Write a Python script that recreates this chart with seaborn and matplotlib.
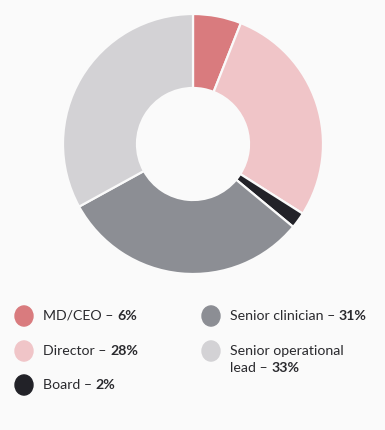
import matplotlib
matplotlib.use("Agg")
import matplotlib.pyplot as plt
import seaborn as sns

# data
labels = ["MD/CEO", "Director", "Board", "Senior clinician", "Senior operational\nlead"]
shares = [6, 28, 2, 31, 33]
colors = ["#d97b7e", "#f0c5c8", "#222228", "#8c8e94", "#d3d2d5"]

BG = "#fafafa"
W, H = 385, 430

sns.set_theme(style="white")
plt.rcParams["font.family"] = ["Lato", "DejaVu Sans"]

fig = plt.figure(figsize=(W / 100, H / 100), dpi=100, facecolor=BG)

# donut: centre (193,144), outer r 130, inner r 56 (pixels)
cx, cy, r = 193, 144, 130
ax = fig.add_axes([(cx - r) / W, (H - cy - r) / H, 2 * r / W, 2 * r / H])
ax.pie(shares, colors=colors, startangle=90, counterclock=False,
       wedgeprops=dict(width=(130 - 56) / 130, edgecolor=BG, linewidth=1.6))
ax.set_xlim(-1, 1)
ax.set_ylim(-1, 1)
ax.set_aspect("equal")
ax.axis("off")

# legend (pixel positions)
items = [(0, 24, 316), (1, 24, 351), (2, 24, 385), (3, 211, 316), (4, 211, 351)]
renderer = fig.canvas.get_renderer()
for idx, x, y in items:
    fig.patches.append(plt.Circle((x / W, 1 - y / H), 9 / W, transform=fig.transFigure,
                                  color=colors[idx], figure=fig))
    lines = labels[idx].split("\n")
    for k, line in enumerate(lines):
        ty = y + k * 17
        last = k == len(lines) - 1
        t = fig.text((x + 19) / W, 1 - ty / H, line + (" \u2013 " if last else ""),
                     fontsize=10.2, color="#2a2a2e", va="center", ha="left")
        if last:
            bb = t.get_window_extent(renderer)
            fig.text(bb.x1 / W, 1 - ty / H, f"{shares[idx]}%", fontsize=10.2,
                     fontweight="bold", color="#2a2a2e", va="center", ha="left")

fig.savefig("out.png", dpi=100, facecolor=BG)
